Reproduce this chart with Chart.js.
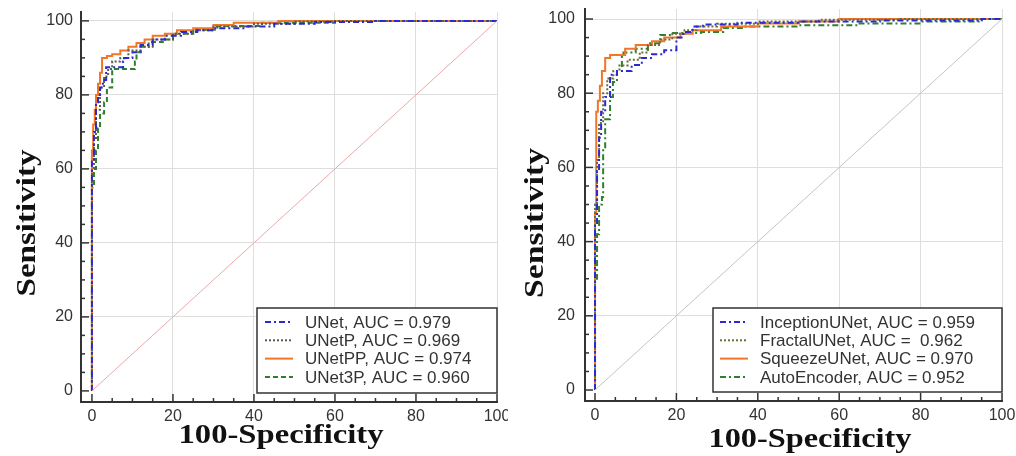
<!DOCTYPE html>
<html>
<head>
<meta charset="utf-8">
<script src="https://cdn.jsdelivr.net/npm/chart.js@4.4.1/dist/chart.umd.min.js"></script>
<style>
  body { margin: 0; background: #fff; }
  .panel { position: absolute; top: 0; width: 508px; height: 456px; }
</style>
</head>
<body>
<div class="panel" style="left:0"><canvas id="leftChart" width="508" height="456"></canvas></div>
<div class="panel" style="left:508px"><canvas id="rightChart" width="508" height="456"></canvas></div>
<script>
// tick labels shared by both panels
const tickValues = [0, 20, 40, 60, 80, 100];
const xTitle = "100-Specificity";
const yTitle = "Sensitivity";

// left panel
const leftLabels = ["UNet, AUC = 0.979", "UNetP, AUC = 0.969", "UNetPP, AUC = 0.974", "UNet3P, AUC = 0.960"];
const unetX = [0, 0, 0.5, 1, 1.5, 2, 2.7, 3.5, 4.4, 7.7, 8, 10, 12, 15, 18, 22, 26, 30, 38, 45, 55, 70, 100];
const unetY = [0, 52, 62, 70, 78, 80, 82, 84, 87.5, 87.5, 89, 90, 91.5, 93.5, 95, 96, 97, 97.5, 98, 98.5, 99.2, 99.7, 100];
const unetPX = [0, 0, 0.5, 1, 2, 3, 4, 5, 7, 9, 12, 15, 20, 25, 30, 40, 50, 60, 100];
const unetPY = [0, 50, 60, 68, 76, 82, 85, 87, 89, 90, 92, 93, 95, 96.5, 97.5, 98.5, 99.2, 99.8, 100];
const unetPPX = [0, 0, 0.3, 0.7, 1, 1.5, 2, 2.5, 3.7, 5, 7, 9, 11, 13, 15, 18, 21, 25, 30, 35, 46, 60, 100];
const unetPPY = [0, 55, 65, 72, 76, 80, 83, 86, 90, 90.5, 91, 92, 93, 94, 95, 96, 96.5, 97.5, 98, 98.9, 99.5, 100, 100];
const unet3PX = [0, 0, 0.5, 1, 1.5, 2, 3, 3.7, 5, 6.2, 10.6, 11, 12, 14, 17.5, 20, 25, 31, 42, 60, 72, 100];
const unet3PY = [0, 50, 55, 60, 65, 71, 75, 78, 82, 87, 87, 89, 91.5, 93, 94.3, 95, 96.5, 97.6, 98.6, 99.5, 100, 100];

// right panel
const rightLabels = ["InceptionUNet, AUC = 0.959", "FractalUNet, AUC =  0.962", "SqueezeUNet, AUC = 0.970", "AutoEncoder, AUC = 0.952"];
const inceptionX = [0, 0, 0.5, 1, 1.5, 2.5, 3.7, 5.4, 9, 11.5, 14, 17, 20, 21.6, 24, 26.5, 35, 50, 70, 95, 100];
const inceptionY = [0, 30, 45, 59, 68, 75, 79, 85, 86, 87.6, 89.5, 90.5, 91.6, 95, 96.5, 98, 98.5, 99, 99.3, 99.6, 100];
const fractalX = [0, 0, 0.5, 1, 2, 3, 4.5, 6, 8, 11, 13, 16, 19, 22, 25, 30, 40, 55, 75, 100];
const fractalY = [0, 35, 50, 62, 72, 80, 84, 86, 87.5, 89, 91, 93, 94.5, 96, 97, 98, 98.7, 99.3, 99.8, 100];
const squeezeX = [0, 0, 0.3, 0.7, 1.2, 1.7, 2.5, 3.7, 7.4, 10, 14, 17, 21, 24, 31, 40, 50, 60, 75, 100];
const squeezeY = [0, 40, 48, 75, 78, 82, 86, 89.5, 90.3, 92, 93, 94, 95, 96, 97, 98, 98.8, 99.3, 100, 100];
const autoX = [0, 0, 0.5, 1, 1.7, 2, 2.5, 3.7, 4.4, 5.4, 6.6, 7, 10, 13, 16, 18.4, 26, 31.5, 37, 50, 65, 80, 95, 100];
const autoY = [0, 15, 30, 42, 50, 52, 65, 73, 79, 83, 86, 90, 91, 92, 93.5, 95.7, 96.2, 96.5, 97.6, 98, 98.3, 98.8, 99.3, 100];

const chanceX = [0, 100];
const chanceY = [0, 100];

function toPoints(xs, ys) {
    return xs.map((x, i) => ({ x: x, y: ys[i] }));
}

function curve(label, xs, ys, color, dash, width) {
    return {
        label: label,
        data: toPoints(xs, ys),
        borderColor: color,
        borderDash: dash,
        borderWidth: width,
        stepped: "after",
        pointRadius: 0,
        fill: false
    };
}

const decorPlugin = {
    id: "decor",
    afterDraw(chart, args, opts) {
        const ctx = chart.ctx;
        const xs = chart.scales.x;
        const ys = chart.scales.y;
        const area = chart.chartArea;
        ctx.save();

        // inward ticks, major every 20, minor every 5
        ctx.strokeStyle = "#333";
        ctx.lineWidth = 1.5;
        for (let v = 0; v <= 100; v += 5) {
            const len = v % 20 === 0 ? 8 : 4;
            const px = xs.getPixelForValue(v);
            ctx.beginPath();
            ctx.moveTo(px, area.bottom);
            ctx.lineTo(px, area.bottom - len);
            ctx.stroke();
            const py = ys.getPixelForValue(v);
            ctx.beginPath();
            ctx.moveTo(area.left, py);
            ctx.lineTo(area.left + len, py);
            ctx.stroke();
        }

        // legend box
        const lg = opts.legend;
        ctx.fillStyle = "#fff";
        ctx.fillRect(lg.x, lg.y, lg.w, lg.h);
        ctx.strokeStyle = "#333";
        ctx.lineWidth = 1.5;
        ctx.strokeRect(lg.x, lg.y, lg.w, lg.h);
        ctx.font = '17px "Liberation Sans", Arial, sans-serif';
        ctx.textBaseline = "middle";
        ctx.textAlign = "left";
        chart.data.datasets.filter(d => d.label).forEach((ds, i) => {
            const cy = lg.y + lg.first + i * lg.step;
            ctx.setLineDash(ds.borderDash || []);
            ctx.strokeStyle = ds.borderColor;
            ctx.lineWidth = 2;
            ctx.beginPath();
            ctx.moveTo(lg.x + lg.sample, cy);
            ctx.lineTo(lg.x + lg.sample + 28, cy);
            ctx.stroke();
            ctx.setLineDash([]);
            ctx.fillStyle = "#333";
            ctx.fillText(ds.label, lg.x + lg.text, cy + 1);
        });

        // axis titles, wide bold serif
        ctx.fillStyle = "#111";
        ctx.font = 'bold 27px "Liberation Serif", "Times New Roman", serif';
        ctx.textAlign = "center";
        ctx.textBaseline = "alphabetic";
        const t = opts.titles;
        let w = ctx.measureText(xTitle).width;
        ctx.save();
        ctx.translate(t.xCx, t.xBase);
        ctx.scale(t.xLen / w, 1);
        ctx.fillText(xTitle, 0, 0);
        ctx.restore();

        w = ctx.measureText(yTitle).width;
        ctx.save();
        ctx.translate(t.yBase, t.yCy);
        ctx.rotate(-Math.PI / 2);
        ctx.scale(t.yLen / w, 1);
        ctx.fillText(yTitle, 0, 0);
        ctx.restore();

        ctx.restore();
    }
};

function makeChart(id, datasets, geo) {
    const ctx = document.getElementById(id).getContext("2d");
    const tickFont = { family: "Liberation Sans", size: 16 };
    return new Chart(ctx, {
        type: "line",
        data: { datasets: datasets },
        options: {
            responsive: false,
            animation: false,
            devicePixelRatio: 1,
            layout: { padding: { left: 0, right: geo.right, top: geo.top, bottom: 0 } },
            elements: { line: { tension: 0 } },
            plugins: {
                legend: { display: false },
                tooltip: { enabled: false },
                decor: { legend: geo.legend, titles: geo.titles }
            },
            scales: {
                x: {
                    type: "linear",
                    min: geo.xMin,
                    max: 100,
                    afterBuildTicks: s => { s.ticks = tickValues.map(v => ({ value: v })); },
                    afterFit: s => { s.height = geo.xHeight; s.paddingLeft = 0; s.paddingRight = 0; },
                    grid: {
                        color: c => (c.tick && c.tick.value > 0) ? "#dedede" : "rgba(0,0,0,0)",
                        drawTicks: false
                    },
                    border: { display: true, color: "#333", width: 2 },
                    ticks: { padding: 5, color: "#333", font: tickFont, maxRotation: 0 }
                },
                y: {
                    type: "linear",
                    min: geo.yMin,
                    max: geo.yMax,
                    afterBuildTicks: s => { s.ticks = tickValues.map(v => ({ value: v })); },
                    afterFit: s => { s.width = geo.yWidth; s.paddingTop = 0; s.paddingBottom = 0; },
                    grid: {
                        color: c => (c.tick && c.tick.value > 0) ? "#dedede" : "rgba(0,0,0,0)",
                        drawTicks: false
                    },
                    border: { display: true, color: "#333", width: 2 },
                    ticks: { padding: geo.yPad, color: "#333", font: tickFont }
                }
            }
        },
        plugins: [decorPlugin]
    });
}

makeChart("leftChart", [
    { label: "", data: toPoints(chanceX, chanceY), borderColor: "#eaa9a9", borderWidth: 1, pointRadius: 0 },
    curve(leftLabels[3], unet3PX, unet3PY, "#2f7f2f", [5, 3], 2),
    curve(leftLabels[1], unetPX, unetPY, "#5c5c48", [2, 2], 2),
    curve(leftLabels[0], unetX, unetY, "#2a2ad0", [6, 3, 2, 3], 2),
    curve(leftLabels[2], unetPPX, unetPPY, "#f2762a", [], 2)
].sort((a, b) => leftLabels.indexOf(a.label) - leftLabels.indexOf(b.label)), {
    right: 11, top: 12, xHeight: 54, yWidth: 81, yPad: 8,
    xMin: -2.7, yMin: -3, yMax: 102.4,
    legend: { x: 257, y: 308, w: 240, h: 85, first: 14, step: 18.3, sample: 8, text: 48 },
    titles: { xCx: 281, xBase: 443, xLen: 205, yBase: 35, yCy: 223, yLen: 147 }
});

makeChart("rightChart", [
    { label: "", data: toPoints(chanceX, chanceY), borderColor: "#c4c4c4", borderWidth: 1, pointRadius: 0 },
    curve(rightLabels[0], inceptionX, inceptionY, "#2a2ad0", [6, 3, 2, 3], 2),
    curve(rightLabels[1], fractalX, fractalY, "#6d6d3a", [2, 2], 2),
    curve(rightLabels[3], autoX, autoY, "#2f7f2f", [6, 3, 2, 3], 2),
    curve(rightLabels[2], squeezeX, squeezeY, "#f2762a", [], 2)
].sort((a, b) => rightLabels.indexOf(a.label) - rightLabels.indexOf(b.label)), {
    right: 14, top: 9, xHeight: 55, yWidth: 77, yPad: 10,
    xMin: -2.46, yMin: -2.96, yMax: 102.7,
    legend: { x: 205, y: 308, w: 289, h: 84, first: 14, step: 18.3, sample: 7, text: 47 },
    titles: { xCx: 302, xBase: 447, xLen: 203, yBase: 35, yCy: 223, yLen: 150 }
});
</script>
</body>
</html>
